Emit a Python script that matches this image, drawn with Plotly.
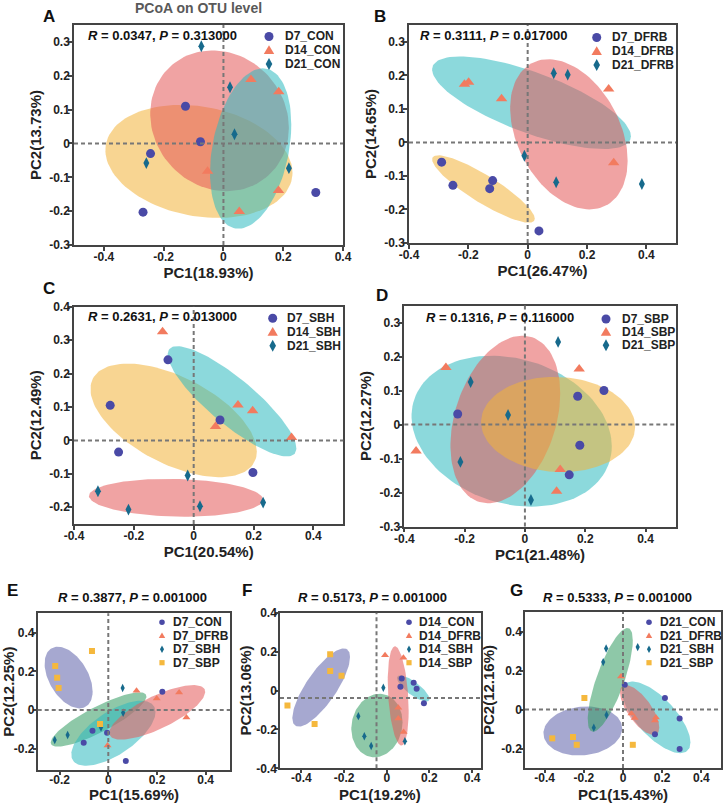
import numpy as np
import plotly.graph_objects as go

W, H = 723, 803
FONT = "Arial, 'Liberation Sans', Helvetica, sans-serif"

# ---------------- data ----------------
panel_keys = ["A", "B", "C", "D", "E", "F", "G"]
R_values = ["0.0347", "0.3111", "0.2631", "0.1316", "0.3877", "0.5173", "0.5333"]
P_values = ["0.313000", "0.017000", "0.013000", "0.116000", "0.001000", "0.001000", "0.001000"]
PC1_titles = ["PC1(18.93%)", "PC1(26.47%)", "PC1(20.54%)", "PC1(21.48%)", "PC1(15.69%)", "PC1(19.2%)", "PC1(15.43%)"]
PC2_titles = ["PC2(13.73%)", "PC2(14.65%)", "PC2(12.49%)", "PC2(12.27%)", "PC2(12.25%)", "PC2(13.06%)", "PC2(12.16%)"]
main_title = "PCoA on OTU level"

# Panel A
A_labels = ["D7_CON", "D14_CON", "D21_CON"]
A_pc1 = [[-0.127, -0.077, -0.244, -0.269, 0.309],
         [0.092, 0.185, -0.053, 0.184, 0.053],
         [-0.074, 0.022, 0.037, -0.258, 0.219]]
A_pc2 = [[0.110, 0.005, -0.030, -0.203, -0.145],
         [0.189, 0.153, -0.082, -0.139, -0.201],
         [0.287, 0.166, 0.027, -0.058, -0.073]]
A_ell_cx = [-0.082, 0.091, -0.013]
A_ell_cy = [-0.053, -0.015, 0.067]
A_ell_sx = [0.313, 0.136, 0.232]
A_ell_sy = [0.167, 0.237, 0.208]
A_ell_rho = [-0.2, 0.3, -0.1]

# Panel B
B_labels = ["D7_DFRB", "D14_DFRB", "D21_DFRB"]
B_pc1 = [[-0.290, -0.252, -0.128, -0.118, 0.038],
         [-0.213, -0.199, -0.088, 0.273, 0.290],
         [0.088, 0.135, -0.011, 0.096, 0.385]]
B_pc2 = [[-0.059, -0.128, -0.138, -0.114, -0.264],
         [0.173, 0.179, 0.130, 0.159, -0.061],
         [0.206, 0.202, -0.040, -0.119, -0.124]]
B_ell_cx = [-0.149, 0.013, 0.139]
B_ell_cy = [-0.139, 0.118, 0.024]
B_ell_sx = [0.173, 0.335, 0.198]
B_ell_sy = [0.1005, 0.138, 0.224]
B_ell_rho = [-0.88, -0.72, -0.35]

# Panel C
C_labels = ["D7_SBH", "D14_SBH", "D21_SBH"]
C_pc1 = [[-0.086, -0.279, -0.251, 0.088, 0.198],
         [-0.104, 0.148, 0.197, 0.073, 0.327],
         [-0.020, -0.320, -0.218, 0.021, 0.232]]
C_pc2 = [[0.241, 0.105, -0.035, 0.061, -0.096],
         [0.325, 0.106, 0.089, 0.042, 0.009],
         [-0.105, -0.152, -0.207, -0.197, -0.186]]
C_ell_cx = [-0.067, 0.128, -0.059]
C_ell_cy = [0.060, 0.117, -0.1715]
C_ell_sx = [0.278, 0.215, 0.291]
C_ell_sy = [0.170, 0.165, 0.0565]
C_ell_rho = [-0.55, -0.85, -0.1]

# Panel D
D_labels = ["D7_SBP", "D14_SBP", "D21_SBP"]
D_pc1 = [[-0.223, 0.175, 0.262, 0.182, 0.147],
         [-0.262, 0.180, -0.361, 0.117, 0.105],
         [0.110, -0.180, -0.056, -0.214, 0.020]]
D_pc2 = [[0.031, 0.083, 0.100, -0.061, -0.148],
         [0.168, 0.163, -0.078, -0.132, -0.196],
         [0.243, 0.125, 0.028, -0.110, -0.222]]
D_ell_cx = [0.110, -0.044, -0.065]
D_ell_cy = [0.000, -0.0196, 0.0147]
D_ell_sx = [0.2555, 0.332, 0.182]
D_ell_sy = [0.140, 0.222, 0.2466]
D_ell_rho = [-0.05, -0.2, 0.31]

# Panel E
E_labels = ["D7_CON", "D7_DFRB", "D7_SBH", "D7_SBP"]
E_pc1 = [[0.222, -0.065, -0.101, -0.005, 0.072],
         [0.116, 0.199, 0.291, 0.321, -0.003],
         [0.059, 0.061, -0.030, -0.167, -0.220],
         [-0.067, -0.218, -0.210, -0.204, -0.034]]
E_pc2 = [[0.095, -0.107, -0.169, -0.117, -0.264],
         [0.100, 0.060, 0.091, -0.038, -0.184],
         [0.114, -0.014, -0.090, -0.129, -0.155],
         [0.305, 0.228, 0.167, 0.114, -0.072]]
E_ell_cx = [0.021, 0.201, -0.040, -0.163]
E_ell_cy = [-0.120, -0.012, -0.049, 0.168]
E_ell_sx = [0.173, 0.197, 0.1966, 0.0986]
E_ell_sy = [0.168, 0.141, 0.1405, 0.1595]
E_ell_rho = [0.65, 0.75, 0.85, -0.45]

# Panel F
F_labels = ["D14_CON", "D14_DFRB", "D14_SBH", "D14_SBP"]
F_pc1 = [[0.070, 0.064, 0.126, 0.140, 0.174],
         [-0.008, 0.078, 0.054, 0.054, 0.079],
         [-0.016, -0.133, -0.105, -0.073, 0.085],
         [-0.265, -0.265, -0.212, -0.465, -0.338]]
F_pc2 = [[0.062, 0.019, 0.040, 0.009, -0.065],
         [0.181, 0.169, -0.089, -0.144, -0.213],
         [0.014, -0.132, -0.235, -0.285, -0.261],
         [0.186, 0.100, 0.076, -0.077, -0.172]]
F_ell_cx = [0.124, 0.0535, -0.046, -0.307]
F_ell_cy = [0.0103, -0.028, -0.180, 0.0155]
F_ell_sx = [0.076, 0.049, 0.120, 0.135]
F_ell_sy = [0.067, 0.255, 0.163, 0.201]
F_ell_rho = [-0.8, -0.3, 0.1, 0.78]

# Panel G
G_labels = ["D21_CON", "D21_DFRB", "D21_SBH", "D21_SBP"]
G_pc1 = [[0.009, 0.214, 0.289, 0.163, 0.289],
         [-0.010, 0.043, 0.060, 0.168, 0.163],
         [-0.086, -0.101, 0.075, -0.084, -0.149],
         [-0.197, -0.361, -0.255, -0.236, 0.050]]
G_pc2 = [[0.127, 0.059, -0.046, -0.127, -0.203],
         [0.169, -0.020, -0.044, -0.041, -0.056],
         [0.313, 0.243, 0.320, -0.028, -0.093],
         [0.059, -0.148, -0.141, -0.181, -0.181]]
G_ell_cx = [0.170, 0.085, -0.065, -0.205]
G_ell_cy = [-0.040, -0.0026, 0.152, -0.110]
G_ell_sx = [0.174, 0.100, 0.115, 0.201]
G_ell_sy = [0.184, 0.128, 0.266, 0.126]
G_ell_rho = [-0.7, -0.7, 0.76, 0.1]

# reference (dashed) lines
ref_x = [0, 0, 0, 0, 0, -0.048, 0]
ref_y = [0, 0, 0, 0, 0, -0.039, 0]

# axis ticks
xticks = {
    "A": [-0.4, -0.2, 0, 0.2, 0.4], "B": [-0.4, -0.2, 0, 0.2, 0.4],
    "C": [-0.4, -0.2, 0, 0.2, 0.4], "D": [-0.4, -0.2, 0, 0.2, 0.4],
    "E": [-0.2, 0, 0.2, 0.4], "F": [-0.4, -0.2, 0, 0.2, 0.4], "G": [-0.4, -0.2, 0, 0.2, 0.4],
}
yticks = {
    "A": [-0.3, -0.2, -0.1, 0, 0.1, 0.2, 0.3], "B": [-0.3, -0.2, -0.1, 0, 0.1, 0.2, 0.3],
    "C": [-0.2, -0.1, 0, 0.1, 0.2, 0.3, 0.4], "D": [-0.3, -0.2, -0.1, 0, 0.1, 0.2, 0.3],
    "E": [-0.2, 0, 0.2, 0.4], "F": [-0.4, -0.2, 0, 0.2, 0.4], "G": [-0.2, 0, 0.2, 0.4],
}

# ---------------- style / layout ----------------
data = {
    "A": (A_labels, A_pc1, A_pc2, (A_ell_cx, A_ell_cy, A_ell_sx, A_ell_sy, A_ell_rho)),
    "B": (B_labels, B_pc1, B_pc2, (B_ell_cx, B_ell_cy, B_ell_sx, B_ell_sy, B_ell_rho)),
    "C": (C_labels, C_pc1, C_pc2, (C_ell_cx, C_ell_cy, C_ell_sx, C_ell_sy, C_ell_rho)),
    "D": (D_labels, D_pc1, D_pc2, (D_ell_cx, D_ell_cy, D_ell_sx, D_ell_sy, D_ell_rho)),
    "E": (E_labels, E_pc1, E_pc2, (E_ell_cx, E_ell_cy, E_ell_sx, E_ell_sy, E_ell_rho)),
    "F": (F_labels, F_pc1, F_pc2, (F_ell_cx, F_ell_cy, F_ell_sx, F_ell_sy, F_ell_rho)),
    "G": (G_labels, G_pc1, G_pc2, (G_ell_cx, G_ell_cy, G_ell_sx, G_ell_sy, G_ell_rho)),
}

# plot boxes in pixels: (left, right, top, bottom)
boxes = {
    "A": (74, 343, 25, 245), "B": (409, 676, 25, 243),
    "C": (74, 343.3, 306.7, 524), "D": (404.3, 675.7, 305.5, 526.5),
    "E": (37.7, 230, 613.3, 770), "F": (280, 480.7, 612.7, 768.3), "G": (525, 721, 612, 768),
}
xranges = {"A": [-0.5, 0.4], "B": [-0.4, 0.5], "C": [-0.4, 0.5], "D": [-0.4, 0.5],
           "E": [-0.29, 0.5], "F": [-0.5, 0.44], "G": [-0.5, 0.5]}
yranges = {"A": [-0.3, 0.35], "B": [-0.3, 0.35], "C": [-0.25, 0.4], "D": [-0.3, 0.35],
           "E": [-0.31, 0.5], "F": [-0.4, 0.4], "G": [-0.3, 0.5]}
ytitle_standoff = {"A": 4, "B": 4, "C": 4, "D": 4, "E": 3, "F": 1, "G": 3}
# bottom-row x titles sit at the page edge, placed as annotations (y centre in px)
bottom_xtitle_y = 794.5

YELLOW = "rgba(242,179,57,0.55)"
TEAL = "rgba(46,186,191,0.55)"
RED = "rgba(228,87,87,0.55)"
GREEN = "rgba(49,155,97,0.55)"
PURPLE = "rgba(93,97,170,0.55)"
ell_colors_3 = [YELLOW, TEAL, RED]
ell_colors_4 = [TEAL, RED, GREEN, PURPLE]
draw_order = {"A": [0, 2, 1], "B": [0, 1, 2], "C": [0, 1, 2], "D": [1, 2, 0],
              "E": [3, 2, 0, 1], "F": [3, 2, 0, 1], "G": [3, 2, 0, 1]}

PT_COLORS = ["#4A4AA6", "#F27B5F", "#176A8C", "#F5B83D"]
SYMBOLS = ["circle", "triangle-up", "diamond-tall", "square"]
SIZES_BIG = [9, 10, 8.5, 8]
SIZES_SMALL = [6, 7, 6, 6]

letter_pos = {"A": (49, 17), "B": (380, 17), "C": (49, 288), "D": (382, 296),
              "E": (13, 590), "F": (247, 590), "G": (516, 590)}
stat_pos = {"A": (162, 35.5), "B": (493.5, 35.5), "C": (162.5, 316), "D": (499.7, 317),
            "E": (132.5, 597.3), "F": (372.3, 597), "G": (617.3, 597)}
# legend: marker x, text x, row ys
legend_pos = {
    "A": (269, 283, [36.5, 50.3, 64]),
    "B": (596.7, 610, [37.5, 51.3, 65]),
    "C": (272.7, 285, [318.3, 332, 345.7]),
    "D": (606, 619.5, [319, 332, 345.3]),
    "E": (162, 170.5, [622.3, 635.7, 649.3, 662.7]),
    "F": (409, 416.7, [622.3, 635.7, 649.3, 662.7]),
    "G": (649, 658, [622.3, 635.7, 649.3, 662.7]),
}


def px2paper_x(px):
    return px / W


def px2paper_y(py):
    return 1 - py / H


def fmt(v):
    s = f"{v:.1f}"
    if s in ("0.0", "-0.0"):
        return "0"
    return s


def ellipse(cx, cy, sx, sy, rho, n=120):
    t = np.linspace(0, 2 * np.pi, n)
    x = cx + sx * np.cos(t)
    y = cy + sy * (rho * np.cos(t) + np.sqrt(1 - rho ** 2) * np.sin(t))
    return x, y


fig = go.Figure()
layout = dict(
    width=W, height=H, margin=dict(l=0, r=0, t=0, b=0, autoexpand=False),
    paper_bgcolor="white", plot_bgcolor="white", showlegend=False,
    font=dict(family=FONT, color="#222"),
)
annotations = []
shapes = []

for i, key in enumerate(panel_keys):
    idx = i + 1
    xa = "x" if idx == 1 else f"x{idx}"
    ya = "y" if idx == 1 else f"y{idx}"
    labels, pc1, pc2, ell = data[key]
    ngroups = len(labels)
    big = ngroups == 3
    ecols = ell_colors_3 if big else ell_colors_4
    sizes = SIZES_BIG if big else SIZES_SMALL

    # ellipses
    for g in draw_order[key]:
        ex, ey = ellipse(ell[0][g], ell[1][g], ell[2][g], ell[3][g], ell[4][g])
        fig.add_trace(go.Scatter(x=ex, y=ey, mode="lines", fill="toself",
                                 fillcolor=ecols[g], line=dict(width=0),
                                 hoverinfo="skip", xaxis=xa, yaxis=ya))
    # points
    for g in range(ngroups):
        fig.add_trace(go.Scatter(x=pc1[g], y=pc2[g], mode="markers", name=labels[g],
                                 marker=dict(symbol=SYMBOLS[g], size=sizes[g],
                                             color=PT_COLORS[g], line=dict(width=0)),
                                 xaxis=xa, yaxis=ya))

    l, r, t, b = boxes[key]
    tick_font = dict(family=FONT, size=12, color="#222", weight="bold")
    title_font = dict(family=FONT, size=15, color="#222", weight="bold")
    axis_common = dict(showgrid=False, zeroline=False, showline=True, linecolor="#444",
                       linewidth=1.5, mirror=True, ticks="outside",
                       ticklen=4 if big else 3,
                       tickwidth=1.5, tickcolor="#444", tickfont=tick_font,
                       automargin=False)
    if big:
        xtitle = dict(text=PC1_titles[i], font=title_font, standoff=3)
    else:
        xtitle = dict(text="")
        annotations.append(dict(text=f"<b>{PC1_titles[i]}</b>", x=px2paper_x((l + r) / 2),
                                y=px2paper_y(bottom_xtitle_y), xref="paper", yref="paper",
                                showarrow=False, xanchor="center", yanchor="middle",
                                font=dict(family=FONT, size=15, color="#222")))
    layout["xaxis" if idx == 1 else f"xaxis{idx}"] = dict(
        domain=[px2paper_x(l), px2paper_x(r)], range=xranges[key], anchor=ya,
        tickmode="array", tickvals=xticks[key], ticktext=[fmt(v) for v in xticks[key]],
        ticklabelstandoff=-4 if big else -5, title=xtitle, **axis_common)
    layout["yaxis" if idx == 1 else f"yaxis{idx}"] = dict(
        domain=[px2paper_y(b), px2paper_y(t)], range=yranges[key], anchor=xa,
        tickmode="array", tickvals=yticks[key], ticktext=[fmt(v) for v in yticks[key]],
        ticklabelstandoff=-4,
        title=dict(text=PC2_titles[i], font=title_font, standoff=ytitle_standoff[key]),
        **axis_common)

    # dashed reference lines
    dash_line = dict(color="#777", width=2, dash="4px,3px")
    shapes.append(dict(type="line", xref=xa, yref=f"{ya} domain", x0=ref_x[i], x1=ref_x[i],
                       y0=0, y1=1, line=dash_line, layer="above"))
    shapes.append(dict(type="line", xref=f"{xa} domain", yref=ya, x0=0, x1=1,
                       y0=ref_y[i], y1=ref_y[i], line=dash_line, layer="above"))

    # panel letter
    lx, ly = letter_pos[key]
    annotations.append(dict(text=f"<b>{key}</b>", x=px2paper_x(lx), y=px2paper_y(ly),
                            xref="paper", yref="paper", showarrow=False,
                            xanchor="center", yanchor="middle",
                            font=dict(family=FONT, size=17, color="#111")))
    # statistics
    sx_, sy_ = stat_pos[key]
    annotations.append(dict(text=f"<b><i>R</i> = {R_values[i]}, <i>P</i> = {P_values[i]}</b>",
                            x=px2paper_x(sx_), y=px2paper_y(sy_), xref="paper", yref="paper",
                            showarrow=False, xanchor="center", yanchor="middle",
                            font=dict(family=FONT, size=13, color="#111")))
    # legend
    mx, tx, rows = legend_pos[key]
    sc = 1.0 if big else 0.62
    for g in range(ngroups):
        ax_ = px2paper_x(mx)
        ay_ = px2paper_y(rows[g])
        common = dict(xref="paper", yref="paper", xsizemode="pixel", ysizemode="pixel",
                      xanchor=ax_, yanchor=ay_, fillcolor=PT_COLORS[g],
                      line=dict(width=0), layer="above")
        if SYMBOLS[g] == "circle":
            rr = 4.5 * sc
            shapes.append(dict(type="circle", x0=-rr, x1=rr, y0=-rr, y1=rr, **common))
        elif SYMBOLS[g] == "triangle-up":
            a, b1, c = 5.2 * sc, 3.8 * sc, 5.0 * sc
            shapes.append(dict(type="path", path=f"M{-a},{-b1} L{a},{-b1} L0,{c} Z", **common))
        elif SYMBOLS[g] == "diamond-tall":
            w_, h_ = 3.3 * sc, 6.0 * sc
            shapes.append(dict(type="path", path=f"M0,{h_} L{w_},0 L0,{-h_} L{-w_},0 Z", **common))
        else:
            s_ = 4.2 * sc
            shapes.append(dict(type="rect", x0=-s_, x1=s_, y0=-s_, y1=s_, **common))
        annotations.append(dict(text=f"<b>{labels[g]}</b>", x=px2paper_x(tx), y=ay_,
                                xref="paper", yref="paper", showarrow=False,
                                xanchor="left", yanchor="middle",
                                font=dict(family=FONT, size=12, color="#222")))

annotations.append(dict(text=f"<b>{main_title}</b>", x=px2paper_x(198), y=px2paper_y(7.5),
                        xref="paper", yref="paper", showarrow=False,
                        xanchor="center", yanchor="middle",
                        font=dict(family=FONT, size=14, color="#595959")))

layout["annotations"] = annotations
layout["shapes"] = shapes
fig.update_layout(**layout)
fig.write_html(
    "out.html",
    config={"displayModeBar": False},
    post_script="document.documentElement.style.margin='0';document.body.style.margin='0';document.body.style.padding='0';",
)
